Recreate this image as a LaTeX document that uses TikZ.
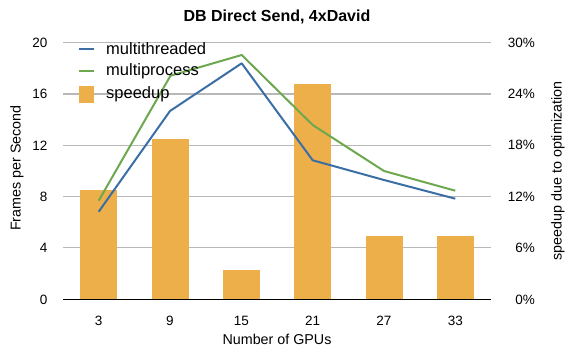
\documentclass[tikz,border=0pt]{standalone}
\usepackage{fontspec}
\setmainfont{Liberation Sans}
\definecolor{bluel}{HTML}{3B6EA5}
\definecolor{greenl}{HTML}{6DA84F}
\definecolor{barc}{HTML}{EDAF4A}
\definecolor{gridc}{HTML}{B8B8B8}
\begin{document}
\begin{tikzpicture}[x=1pt,y=-1pt,
  grid/.style={draw=gridc,line width=1.2pt},
  bar/.style={fill=barc,draw=none},
  ser/.style={line width=2pt,line join=round},
  tick/.style={font=\fontsize{13.5}{14}\selectfont,inner sep=0pt},
  ltick/.style={tick,anchor=east},
  rtick/.style={tick,anchor=east},
  xtick/.style={tick,anchor=center},
  leg/.style={font=\fontsize{16.5}{17}\selectfont,anchor=west,inner sep=0pt},
  axt/.style={font=\fontsize{14.3}{15}\selectfont,inner sep=0pt}]
\useasboundingbox (0,0) rectangle (566,347);
% gridlines
\foreach \yy in {42.7,94.0,145.3,196.6,247.9}{\draw[grid] (63,\yy) -- (491,\yy);}
% bars
\foreach \cx/\top in {98.7/190,170/139,241.3/270,312.7/84,384/236,455.3/236}{
  \path[bar] (\cx-18.5,299.5) rectangle (\cx+18.5,\top);}
\draw[black,line width=1.2pt] (63,299.5) -- (491,299.5);
% series
\draw[ser,greenl] (98.7,200.7) -- (170.5,75.7) -- (241.7,55) -- (312.7,125) -- (384,171) -- (455.3,190.7);
\draw[ser,bluel] (98.7,211.7) -- (170,111) -- (241.7,63.3) -- (312.7,160.3) -- (384,180) -- (455.3,198.7);
% left ticks
\foreach \yy/\lab in {42.7/20,94.0/16,145.3/12,196.6/8,247.9/4,299.5/0}{\node[ltick] (l\lab) at (47.5,\yy) {\lab};}
\foreach \yy/\lab in {42.7/30,94.0/24,145.3/18,196.6/12,247.9/6,299.5/0}{\node[rtick] (r\lab) at (535,\yy) {\lab\%};}
\foreach \cx/\lab in {98.7/3,170/9,241.3/15,312.7/21,384/27,455.3/33}{\node[xtick] (x\lab) at (\cx,321) {\lab};}
% titles
\node[font=\fontsize{16}{17}\selectfont\bfseries,inner sep=0pt] (title) at (277,17) {DB Direct Send, 4xDavid};
\node[axt] (xt) at (277,339) {Number of GPUs};
\node[axt,rotate=90] (yl) at (17,168) {Frames per Second};
\node[axt,rotate=90] (yr) at (558,171) {speedup due to optimization};
% legend
\draw[ser,bluel] (78.5,49) -- (94,49);
\node[leg] (lg1) at (106,49) {multithreaded};
\draw[ser,greenl] (78.5,71) -- (94,71);
\node[leg] (lg2) at (106,71) {multiprocess};
\path[bar] (78.5,86) rectangle (94,103);
\node[leg] (lg3) at (106,94) {speedup};
\end{tikzpicture}
\end{document}
